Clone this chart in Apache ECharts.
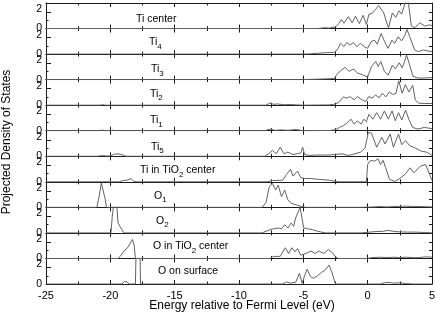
<!DOCTYPE html>
<html>
<head>
<meta charset="utf-8">
<script src="https://cdn.jsdelivr.net/npm/echarts@6/dist/echarts.min.js"></script>
<style>html,body{margin:0;padding:0;background:#fff}#c{width:436px;height:314px}</style>
</head>
<body>
<div id="c"></div>
<script>
// ---- data (energy in eV, projected DOS) ----
const tiCenter = [[-25,0],[-4.1,0],[-3.7,0.03],[-3.3,0.1],[-3.0,0.05],[-2.7,0.15],[-2.5,0.2],[-2.25,0.6],[-2.05,1.1],[-1.85,0.65],[-1.5,1.45],[-1.2,0.7],[-0.95,1.5],[-0.65,0.6],[-0.35,1.6],[-0.1,0.5],[0.1,1.75],[0.35,1.85],[0.6,2.3],[0.85,2.8],[1.25,1.9],[1.5,0.6],[1.62,0.1],[1.92,1.9],[2.18,1.35],[2.44,2.15],[2.64,1.75],[2.95,3.3],[3.15,3.3],[3.4,0.3],[3.67,0.1],[4.05,0.7],[4.44,0.3],[4.82,0.45],[5,0.35]];
const ti4 = [[-25,0],[-5,0],[-4.5,0.02],[-3.95,0.1],[-3.4,0.15],[-2.9,0.2],[-2.63,0.2],[-2.37,0.5],[-2.1,1.3],[-1.84,0.9],[-1.63,1.4],[-1.37,1.1],[-1.1,1.4],[-0.84,0.9],[-0.58,1.3],[-0.26,0.9],[0,0.7],[0.26,1.5],[0.53,1.7],[0.74,1.2],[1.05,2.5],[1.32,1.5],[1.58,0.7],[1.89,1.7],[2.1,1.3],[2.37,2.1],[2.63,1.6],[2.9,2.3],[3.05,3.0],[3.3,2.0],[3.65,0.5],[3.95,0.3],[4.34,0.5],[4.6,0.4],[5,0.3]];
const ti3 = [[-25,0],[-5,0],[-4.5,0.03],[-4,0.05],[-3.5,0.08],[-3,0.1],[-2.6,0.15],[-2.4,0.6],[-2.1,1.1],[-1.75,1.5],[-1.45,1.0],[-1.1,1.3],[-0.8,0.8],[-0.4,0.6],[0,0.3],[0.3,1.6],[0.62,2.2],[0.82,1.6],[1.02,2.2],[1.3,1.0],[1.6,0.55],[1.92,1.75],[2.15,1.3],[2.45,2.05],[2.68,1.45],[2.87,2.2],[3.02,3.0],[3.22,2.0],[3.52,0.4],[3.9,0.2],[4.4,0.2],[5,0.25]];
const ti2 = [[-25,0],[-20.8,0],[-20.6,0.06],[-20.4,0],[-7.9,0],[-7.6,0.25],[-7.3,0.1],[-7.0,0.15],[-6.5,0.05],[-6.0,0.08],[-5.5,0.03],[-5.0,0],[-3.0,0.03],[-2.5,0.15],[-2.2,0.4],[-1.9,1.0],[-1.6,0.85],[-1.4,1.05],[-1.05,0.65],[-0.8,1.05],[-0.5,0.7],[-0.15,0.45],[0.1,1.05],[0.35,0.85],[0.6,1.25],[0.9,0.9],[1.15,1.45],[1.4,1.0],[1.7,1.6],[1.95,1.3],[2.2,1.45],[2.42,2.95],[2.68,1.45],[2.93,2.5],[3.2,1.6],[3.5,2.4],[3.7,0.65],[3.95,0.25],[4.4,0.2],[5,0.2]];
const ti1 = [[-25,0],[-20.9,0],[-20.7,0.06],[-20.4,0.03],[-20.0,0],[-19.8,0.06],[-19.6,0],[-8,0],[-7.6,0.2],[-7.2,0.05],[-6.7,0.1],[-6.2,0.05],[-5.6,0.15],[-5.2,0.05],[-5,0],[-3,0.03],[-2.5,0.1],[-2.2,0.4],[-1.9,0.6],[-1.55,1.0],[-1.3,1.4],[-1.05,0.8],[-0.8,1.2],[-0.5,0.8],[-0.3,1.4],[-0.1,1.1],[0.1,2.0],[0.4,1.4],[0.7,2.2],[1.0,1.4],[1.3,2.4],[1.6,1.4],[1.9,2.4],[2.15,1.2],[2.4,2.2],[2.65,1.3],[2.95,2.5],[3.2,1.4],[3.5,0.4],[3.9,0.2],[4.4,0.4],[5,0.25]];
const ti5 = [[-25,0],[-21,0],[-20.7,0.08],[-20.4,0.05],[-20.0,0.02],[-19.7,0.25],[-19.4,0.3],[-19.0,0.15],[-18.8,0],[-8,0],[-7.7,0.3],[-7.4,0.7],[-7.1,0.3],[-6.8,1.1],[-6.5,0.3],[-6.2,0.5],[-5.8,0.2],[-5.2,0.4],[-5.05,1.1],[-4.9,0.2],[-4.5,0.1],[-4,0.15],[-3,0.15],[-2.0,0.3],[-1.5,0.1],[-1,0.3],[-0.55,0.5],[-0.2,1.0],[0.05,2.9],[0.3,2.8],[0.7,1.1],[1.1,2.3],[1.35,1.5],[1.75,2.7],[2.0,1.1],[2.4,2.7],[2.65,1.4],[2.95,1.9],[3.25,1.3],[3.7,1.0],[4.2,0.6],[4.6,0.5],[5,0.1]];
const tiInTiO2 = [[-25,0],[-19.3,0],[-19.0,0.15],[-18.7,0.2],[-18.4,0.4],[-18.2,0.1],[-18.0,0],[-7.8,0],[-7.4,0.15],[-6.6,0.2],[-6.3,0.9],[-6.0,1.5],[-5.8,0.7],[-5.45,1.3],[-5.2,0.5],[-4.9,0.4],[-4.4,0.4],[-3.8,0.3],[-3.0,0.2],[-2.5,0.05],[-2.3,0],[-0.1,0],[0.0,2.1],[0.15,2.5],[0.35,2.6],[0.55,2.5],[0.8,2.8],[1.0,2.1],[1.2,2.6],[1.4,1.7],[1.7,0.3],[2.1,0.05],[2.4,0.3],[2.9,0.9],[3.3,1.7],[3.6,1.1],[4.1,1.9],[4.5,2.1],[5,0.2]];
const o1 = [[-25,0],[-21.05,0],[-20.85,1.5],[-20.7,3.0],[-20.55,3.0],[-20.4,1.0],[-20.3,0],[-8.2,0],[-7.9,0.6],[-7.65,2.5],[-7.4,2.9],[-7.15,2.1],[-6.95,2.7],[-6.7,1.3],[-6.45,2.1],[-6.2,0.9],[-5.95,0.5],[-5.55,0.3],[-5.15,0.1],[-4.8,0],[-0.5,0],[0.5,0.05],[1,0.1],[1.5,0.05],[2,0.1],[2.5,0.12],[3,0.15],[3.5,0.1],[4,0.1],[5,0.05]];
const o2 = [[-25,0],[-21.1,0],[-20.95,0.1],[-20.8,0],[-19.95,0],[-19.85,2.0],[-19.75,3.3],[-19.5,3.3],[-19.4,1.2],[-19.25,0.8],[-19.1,0.4],[-18.95,0],[-8.2,0],[-7.6,0.4],[-7.3,0.5],[-6.95,0.6],[-6.7,0.5],[-6.45,1.0],[-6.2,0.6],[-5.95,1.2],[-5.75,0.8],[-5.6,1.8],[-5.45,1.6],[-5.25,3.1],[-5.1,3.0],[-4.97,0.6],[-4.67,0.5],[-4.3,0.4],[-3.9,0.2],[-3.6,0.1],[-3.3,0],[-0.5,0],[0.5,0.15],[1.2,0.2],[1.6,0.3],[2.2,0.15],[3,0.1],[3.6,0.1],[4.5,0.05],[5,0]];
const oInTiO2 = [[-25,0],[-19.4,0],[-19.2,0.3],[-19.05,0.1],[-18.9,1.0],[-18.7,1.2],[-18.55,1.3],[-18.4,2.0],[-18.28,2.3],[-18.15,1.6],[-18.05,0],[-7.6,0],[-7.3,0.25],[-6.8,0.25],[-6.4,1.3],[-6.15,0.6],[-5.9,1.3],[-5.65,0.8],[-5.45,1.2],[-5.2,0.4],[-4.8,0.6],[-4.4,0.9],[-4.1,0.6],[-3.8,0.9],[-3.4,0.6],[-3.05,1.1],[-2.75,0.7],[-2.5,0.2],[-2.3,0],[0,0],[0.3,0.1],[1,0.15],[1.5,0.1],[2,0.15],[2.5,0.1],[3,0.15],[3.5,0.1],[4,0.1],[4.5,0.2],[5,0.15]];
const oSurface = [[-25,0],[-19.1,0],[-18.9,0.3],[-18.7,0.25],[-18.55,0],[-18.05,0],[-18.0,4.0],[-17.7,4.0],[-17.65,0],[-6.6,0],[-6.3,0.25],[-6.0,0.1],[-5.6,0.2],[-5.3,1.3],[-5.1,0.1],[-4.9,1.0],[-4.7,1.8],[-4.45,0.9],[-4.2,0.7],[-3.9,1.0],[-3.6,1.4],[-3.3,1.7],[-3.0,2.3],[-2.8,1.5],[-2.6,0.5],[-2.5,0],[1.0,0],[1.3,0.15],[1.7,0.2],[2,0.1],[2.5,0.15],[3,0.05],[3.5,0],[5,0]];

const panelSeries = [tiCenter, ti4, ti3, ti2, ti1, ti5, tiInTiO2, o1, o2, oInTiO2, oSurface];
// label parts: [main, subscript, rest]
const panelNames = [['Ti center','',''],['Ti','4',''],['Ti','3',''],['Ti','2',''],['Ti','1',''],['Ti','5',''],['Ti in TiO','2',' center'],['O','1',''],['O','2',''],['O in TiO','2',' center'],['O on surface','','']];
const xMin = -25, xMax = 5, xStep = 5;
const yMax = 3.1, yLabelValues = [0, 2];
const xTitle = 'Energy relative to Fermi Level (eV)';
const yTitle = 'Projected Density of States';

// ---- layout ----
const labelLeft = [136, 149, 151, 150, 150, 151, 140, 154, 156, 153, 158];
const labelCenterY = [19, 42.5, 69.5, 94, 120.5, 147, 170.5, 196, 221, 246.5, 271.5];
const FONT = '"Liberation Sans", Arial, sans-serif';
const AX = '#1a1a1a';
const top0 = 3, plotH = 281, N = panelSeries.length, ph = plotH / N;

const grids = [], xAxes = [], yAxes = [], series = [], titles = [];
panelSeries.forEach((d, i) => {
  grids.push({left: 46, width: 386, top: top0 + i * ph, height: ph, containLabel: false, outerBoundsMode: 'none'});
  const last = i === N - 1;
  const xBase = {
    gridIndex: i, type: 'value', min: xMin, max: xMax, interval: xStep,
    axisLine: {show: true, onZero: false, lineStyle: {color: AX, width: 1}},
    axisTick: {show: true, inside: true, length: 4, lineStyle: {color: AX, width: 1}},
    minorTick: {show: true, splitNumber: 2, length: 2.5, lineStyle: {color: AX, width: 1}},
    splitLine: {show: false}, minorSplitLine: {show: false}
  };
  xAxes.push(Object.assign({}, xBase, {
    position: 'bottom',
    axisLabel: {show: last, color: '#000', fontSize: 11, fontFamily: FONT, margin: 6}
  }));
  xAxes.push(Object.assign({}, xBase, {position: 'top', axisLabel: {show: false}}));
  const yBase = {gridIndex: i, type: 'value', min: 0, max: yMax, splitLine: {show: false}};
  yAxes.push(Object.assign({}, yBase, {
    position: 'left', interval: 2,
    axisLine: {show: true, onZero: false, lineStyle: {color: AX, width: 1}},
    axisTick: {show: true, inside: true, length: 5, customValues: yLabelValues, lineStyle: {color: AX}},
    axisLabel: {show: true, customValues: yLabelValues, color: '#000', fontSize: 10.5, fontFamily: FONT, margin: 4,
      formatter: v => (v === 2 ? '{u|2}' : String(v)),
      rich: {u: {fontSize: 10.5, fontFamily: FONT, color: '#000', padding: [0, 0, 6, 0]}}}
  }));
  yAxes.push(Object.assign({}, yBase, {
    position: 'left', interval: 1,
    axisLine: {show: false, onZero: false},
    axisTick: {show: true, inside: true, length: 2.5, customValues: [1], lineStyle: {color: AX}},
    axisLabel: {show: false}
  }));
  yAxes.push(Object.assign({}, yBase, {
    position: 'right', interval: 1,
    axisLine: {show: true, onZero: false, lineStyle: {color: AX, width: 1}},
    axisTick: {show: true, inside: true, length: 3, customValues: [1, 2], lineStyle: {color: AX}},
    axisLabel: {show: false}
  }));
  series.push({
    type: 'line', xAxisIndex: 2 * i, yAxisIndex: 3 * i, data: d,
    symbol: 'none', showSymbol: false, clip: true, silent: true,
    lineStyle: {color: '#626262', width: 1}
  });
  const nm = panelNames[i];
  let txt = '{n|' + nm[0] + '}';
  if (nm[1]) txt += '{s|' + nm[1] + '}';
  if (nm[2]) txt += '{n|' + nm[2] + '}';
  titles.push({
    text: txt, left: labelLeft[i], top: labelCenterY[i] - 8, padding: 0,
    textStyle: {fontWeight: 'normal', rich: {
      n: {fontSize: 10.5, fontFamily: FONT, fontWeight: 'normal', color: '#000', lineHeight: 16, verticalAlign: 'middle'},
      s: {fontSize: 8, fontFamily: FONT, fontWeight: 'normal', color: '#000', lineHeight: 8, verticalAlign: 'bottom'}
    }}
  });
});

const chart = echarts.init(document.getElementById('c'), null, {renderer: 'canvas'});
chart.setOption({
  animation: false,
  backgroundColor: '#fff',
  title: titles,
  grid: grids,
  xAxis: xAxes,
  yAxis: yAxes,
  series: series,
  graphic: [
    {type: 'text', x: 242, y: 306,
     style: {text: xTitle, fill: '#000', font: '12px ' + FONT, align: 'center', verticalAlign: 'middle'}},
    {type: 'text', x: 7, y: 142, rotation: Math.PI / 2,
     style: {text: yTitle, fill: '#000', font: '12px ' + FONT, align: 'center', verticalAlign: 'middle'}}
  ]
});
</script>
</body>
</html>
